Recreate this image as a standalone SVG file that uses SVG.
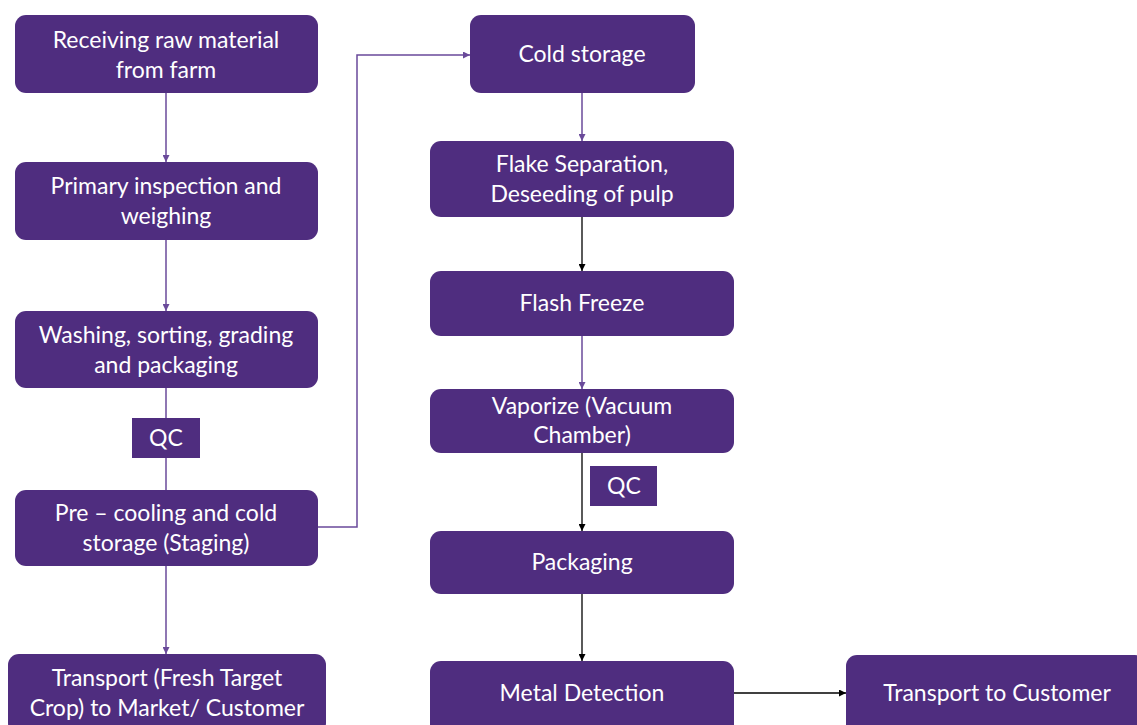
<svg xmlns="http://www.w3.org/2000/svg" width="1137" height="725" viewBox="0 0 1137 725">
<style>
.n{fill:#4F2D7F}
.t{fill:#fff;font-family:Lato,"Open Sans",sans-serif;font-size:23px;text-anchor:middle}
.cp{stroke:#6A4A9A;stroke-width:1.5;fill:none}
.ck{stroke:#000;stroke-width:1.3;fill:none}
</style>
<defs>
<marker id="ap" viewBox="0 0 10 10" refX="10" refY="5" markerWidth="7" markerHeight="7" markerUnits="userSpaceOnUse" orient="auto"><path d="M0,0L10,5L0,10z" fill="#6A4A9A"/></marker>
<marker id="ak" viewBox="0 0 10 10" refX="10" refY="5" markerWidth="7" markerHeight="7" markerUnits="userSpaceOnUse" orient="auto"><path d="M0,0L10,5L0,10z" fill="#000"/></marker>
</defs>
<rect width="1137" height="725" fill="#fff"/>
<g id="connectors">
<path class="cp" d="M166,93V162" marker-end="url(#ap)"/>
<path class="cp" d="M166,240V311" marker-end="url(#ap)"/>
<path class="cp" d="M166,388V490"/>
<path class="cp" d="M318,527H357V55H470" marker-end="url(#ap)"/>
<path class="cp" d="M166,566V654" marker-end="url(#ap)"/>
<path class="cp" d="M582,93V141" marker-end="url(#ap)"/>
<path class="ck" d="M582,217V271" marker-end="url(#ak)"/>
<path class="cp" d="M582,336V389" marker-end="url(#ap)"/>
<path class="ck" d="M582,453V531" marker-end="url(#ak)"/>
<path class="ck" d="M582,594V661" marker-end="url(#ak)"/>
<path class="ck" d="M734,693H846" marker-end="url(#ak)"/>
</g>
<g id="n1"><rect class="n" x="15" y="15" width="303" height="78" rx="11"/><text class="t" x="166" y="48">Receiving raw material</text><text class="t" x="166" y="78">from farm</text></g>
<g id="n2"><rect class="n" x="15" y="162" width="303" height="78" rx="11"/><text class="t" x="166" y="194">Primary inspection and</text><text class="t" x="166" y="224">weighing</text></g>
<g id="n3"><rect class="n" x="15" y="311" width="303" height="77" rx="11"/><text class="t" x="166" y="343">Washing, sorting, grading</text><text class="t" x="166" y="373">and packaging</text></g>
<g id="qc1"><rect class="n" x="132" y="418" width="68" height="40"/><text class="t" x="166" y="446">QC</text></g>
<g id="n4"><rect class="n" x="15" y="490" width="303" height="76" rx="11"/><text class="t" x="166" y="521">Pre – cooling and cold</text><text class="t" x="166" y="551">storage (Staging)</text></g>
<g id="n5"><rect class="n" x="8" y="654" width="318" height="80" rx="11"/><text class="t" x="167" y="686">Transport (Fresh Target</text><text class="t" x="167" y="716">Crop) to Market/ Customer</text></g>
<g id="n6"><rect class="n" x="470" y="15" width="225" height="78" rx="11"/><text class="t" x="582" y="62">Cold storage</text></g>
<g id="n7"><rect class="n" x="430" y="141" width="304" height="76" rx="11"/><text class="t" x="582" y="172">Flake Separation,</text><text class="t" x="582" y="202">Deseeding of pulp</text></g>
<g id="n8"><rect class="n" x="430" y="271" width="304" height="65" rx="11"/><text class="t" x="582" y="311">Flash Freeze</text></g>
<g id="n9"><rect class="n" x="430" y="389" width="304" height="64" rx="11"/><text class="t" x="582" y="414">Vaporize (Vacuum</text><text class="t" x="582" y="443">Chamber)</text></g>
<g id="qc2"><rect class="n" x="590" y="466" width="67" height="40"/><text class="t" x="624" y="494">QC</text></g>
<g id="n10"><rect class="n" x="430" y="531" width="304" height="63" rx="11"/><text class="t" x="582" y="570">Packaging</text></g>
<g id="n11"><rect class="n" x="430" y="661" width="304" height="74" rx="11"/><text class="t" x="582" y="701">Metal Detection</text></g>
<g id="n12"><rect class="n" x="846" y="655" width="300" height="80" rx="11"/><text class="t" x="997" y="701">Transport to Customer</text></g>
</svg>
